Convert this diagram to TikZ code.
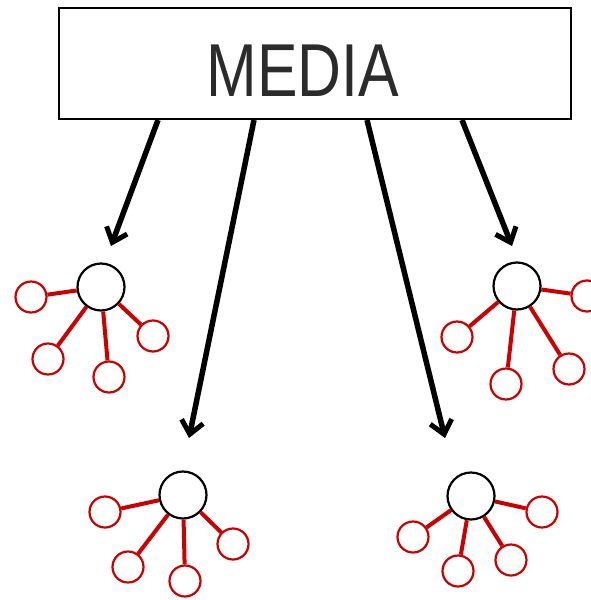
\documentclass[tikz,border=0pt]{standalone}
\usepackage{fontspec}
\setmainfont{Liberation Sans}
\usetikzlibrary{arrows.meta}
\definecolor{hubred}{HTML}{CC0000}
\definecolor{inkgray}{HTML}{2B2B2B}
\tikzset{
  mediabox/.style={draw=black, line width=1.8pt, fill=white},
  push/.style={draw=black, line width=5.5pt,
    -{Straight Barb[length=13pt, width=22pt, line width=5pt]}},
  hub/.style={circle, draw=black, line width=2.2pt, minimum size=47pt, inner sep=0pt, fill=white},
  leaf/.style={circle, draw=hubred, line width=2.2pt, minimum size=31pt, inner sep=0pt, fill=white},
  tie/.style={draw=hubred, line width=4pt},
}
\begin{document}
\begin{tikzpicture}[x=1pt, y=-1pt]
\useasboundingbox (0,0) rectangle (590,600);

% header box
\draw[mediabox] (59,8) rectangle (571,119);
\node[anchor=base, inner sep=0pt, text=inkgray, xscale=0.81,
      font=\fontsize{75}{75}\selectfont] (media) at (303,96) {MEDIA};
\coordinate (s1) at (158,120);
\coordinate (s2) at (254,120);
\coordinate (s3) at (367,120);
\coordinate (s4) at (462,120);
\coordinate (e1) at (111,246);
\coordinate (e2) at (189,438);
\coordinate (e3) at (445,438);
\coordinate (e4) at (512,246);

% cluster A (top left)
\node[hub] (ha) at (101,287) {};
\node[leaf] (a1) at (31,297) {};
\node[leaf] (a2) at (48,359) {};
\node[leaf] (a3) at (109,377) {};
\node[leaf] (a4) at (153,336) {};

% cluster B (top right)
\node[hub] (hb) at (517,286) {};
\node[leaf] (b1) at (587,296) {};
\node[leaf] (b2) at (457,337) {};
\node[leaf] (b3) at (506,384) {};
\node[leaf] (b4) at (569,369) {};

% cluster C (bottom left)
\node[hub] (hc) at (183,495) {};
\node[leaf] (c1) at (105,512) {};
\node[leaf] (c2) at (128,567) {};
\node[leaf] (c3) at (185,581) {};
\node[leaf] (c4) at (233,544) {};

% cluster D (bottom right)
\node[hub] (hd) at (471,496) {};
\node[leaf] (d1) at (542,512) {};
\node[leaf] (d2) at (413,537) {};
\node[leaf] (d3) at (458,571) {};
\node[leaf] (d4) at (511,560) {};

% spokes
\foreach \h/\l in {ha/a1,ha/a2,ha/a3,ha/a4,hb/b1,hb/b2,hb/b3,hb/b4,
                   hc/c1,hc/c2,hc/c3,hc/c4,hd/d1,hd/d2,hd/d3,hd/d4}
  \draw[tie] (\h) -- (\l);

% arrows from the header
\draw[push] (s1) -- (e1);
\draw[push] (s2) -- (e2);
\draw[push] (s3) -- (e3);
\draw[push] (s4) -- (e4);
\end{tikzpicture}
\end{document}
